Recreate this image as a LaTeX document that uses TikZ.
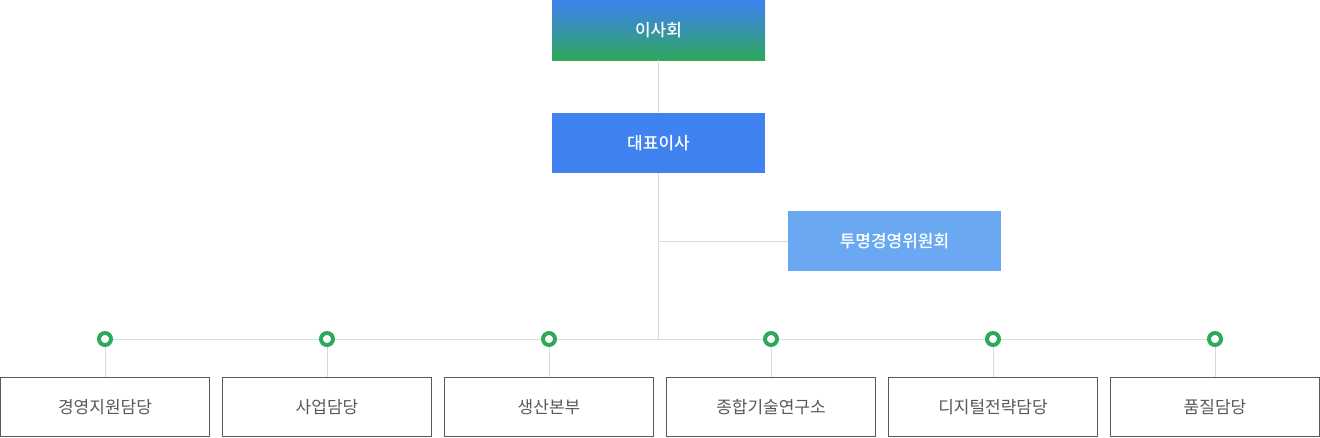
\documentclass[tikz,border=0pt]{standalone}
\usepackage{fontspec}
\setmainfont{Noto Sans CJK KR}
\newfontfamily\medfont{Noto Sans CJK KR Medium}
\begin{document}
\begin{tikzpicture}[x=1pt,y=-1pt,
  topbox/.style={minimum width=213pt,minimum height=60pt,inner sep=0pt,text=white,font=\fontsize{17}{20}\medfont},
  unitbox/.style={draw=black!65,line width=1pt,fill=white,minimum width=209pt,minimum height=59pt,inner sep=0pt,text=black!65,font=\fontsize{17}{20}\selectfont},
  link/.style={draw=black!14,line width=1pt},
  dotring/.style={draw=ogreen,line width=4pt,fill=white}]
\definecolor{ogreen}{HTML}{2EA85A}
\definecolor{oblue}{HTML}{3F82F0}
\definecolor{olight}{HTML}{6AA9F2}
\definecolor{gtop}{HTML}{3E82EE}
\useasboundingbox (0,0) rectangle (1320,437);
% top box with gradient
\shade[top color=gtop,bottom color=ogreen,middle color=gtop!55!ogreen] (552,0) rectangle (765,60);
\node[topbox] (board) at (658.5,30) {이사회};
\node[topbox,fill=oblue] (ceo) at (658.5,143) {대표이사};
\node[topbox,fill=olight] (comm) at (894.5,241) {투명경영위원회};
\coordinate (hub) at (658.5,339);
\coordinate (br) at (658.5,241);
\draw[link] (board.south) -- (ceo.north);
\draw[link] (ceo.south) -- (hub);
\draw[link] (br) -- (comm.west);
\node[unitbox] (u1) at (105,407) {경영지원담당};
\node[unitbox] (u2) at (327,407) {사업담당};
\node[unitbox] (u3) at (549,407) {생산본부};
\node[unitbox] (u4) at (771,407) {종합기술연구소};
\node[unitbox] (u5) at (993,407) {디지털전략담당};
\node[unitbox] (u6) at (1215,407) {품질담당};
\coordinate (d1) at (105,339);
\coordinate (d6) at (1215,339);
\draw[link] (d1) -- (d6);
\foreach \i in {1,...,6}{
  \coordinate (c\i) at (u\i.north |- d1);
  \draw[link] (c\i) -- (u\i.north);
  \draw[dotring] (c\i) circle[radius=6pt];
}
\end{tikzpicture}
\end{document}
